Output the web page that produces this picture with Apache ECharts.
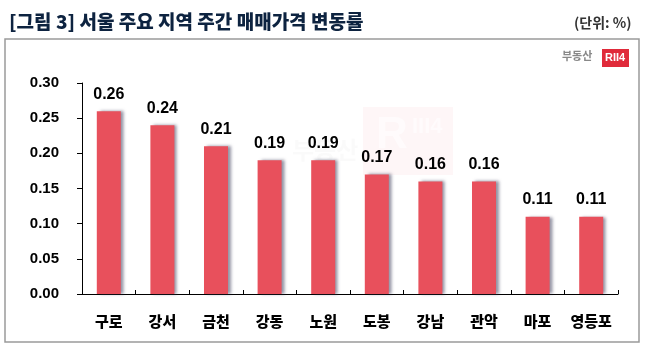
<!DOCTYPE html>
<html>
<head>
<meta charset="utf-8">
<script src="https://cdn.jsdelivr.net/npm/echarts@6/dist/echarts.min.js"></script>
<style>html,body{margin:0;padding:0;background:#fff}#c{width:645px;height:362px}</style>
</head>
<body>
<div id="c"></div>
<script>
const categories = ['구로', '강서', '금천', '강동', '노원', '도봉', '강남', '관악', '마포', '영등포'];
const values = [0.26, 0.24, 0.21, 0.19, 0.19, 0.17, 0.16, 0.16, 0.11, 0.11];
const yTicks = [0, 0.05, 0.10, 0.15, 0.20, 0.25, 0.30];

const chart = echarts.init(document.getElementById('c'), null, {renderer: 'canvas'});
const option = {
  animation: false,
  backgroundColor: '#fff',
  title: {
    text: '[그림 3] 서울 주요 지역 주간 매매가격 변동률',
    left: 4, top: 7,
    textStyle: {fontFamily: 'Noto Sans CJK KR', fontWeight: 900, fontSize: 19, color: '#0d2340'}
  },
  graphic: [
    {type: 'rect', shape: {x: 5, y: 39, width: 634, height: 303}, style: {fill: 'none', stroke: '#9a9a9a', lineWidth: 1.5}, z: 0},
    {type: 'text', left: 574, top: 16, style: {text: '(단위: %)', fontFamily: 'Noto Sans CJK KR', fontSize: 14, fontWeight: 'bold', fill: '#333'}},
    {type: 'text', left: 562, top: 50, style: {text: '부동산', fontFamily: 'Noto Sans CJK KR', fontSize: 11, fontWeight: 'bold', fill: '#888'}},
    {type: 'rect', shape: {x: 602, y: 49, width: 27, height: 18}, style: {fill: '#e02a3a'}},
    {type: 'text', left: 605, top: 52, style: {text: 'RII4', fontFamily: 'Liberation Sans', fontSize: 11, fontWeight: 'bold', fill: '#fff'}},
    {type: 'rect', shape: {x: 363, y: 107, width: 90, height: 68}, style: {fill: 'rgba(232,80,92,0.05)'}, z: 0},
    {type: 'text', left: 376, top: 114, style: {text: 'R', fontFamily: 'Liberation Sans', fontSize: 44, fontWeight: 'bold', fill: 'rgba(255,255,255,0.6)'}, z: 0},
    {type: 'text', left: 412, top: 116, style: {text: 'III4', fontFamily: 'Liberation Sans', fontSize: 22, fontWeight: 'bold', fill: 'rgba(255,255,255,0.6)'}, z: 0},
    {type: 'text', left: 292, top: 138, style: {text: '부동산', fontFamily: 'Noto Sans CJK KR', fontSize: 24, fontWeight: 'bold', fill: 'rgba(150,150,150,0.05)'}, z: 0}
  ],
  grid: {left: 82, right: 27, top: 83, bottom: 68},
  xAxis: {
    type: 'category',
    data: categories,
    axisLine: {lineStyle: {color: '#000', width: 1}},
    axisTick: {show: true, inside: true, length: 4, lineStyle: {color: '#000'}},
    axisLabel: {interval: 0, margin: 20, fontFamily: 'Noto Sans CJK KR', fontWeight: 900, fontSize: 15, color: '#000'}
  },
  yAxis: {
    type: 'value',
    min: 0, max: 0.30, interval: 0.05,
    splitLine: {show: false},
    axisLine: {show: true, lineStyle: {color: '#000', width: 1}},
    axisTick: {show: true, length: 5, lineStyle: {color: '#000'}},
    axisLabel: {margin: 23, fontFamily: 'Liberation Sans', fontWeight: 'bold', fontSize: 15, color: '#000',
      formatter: v => v.toFixed(2)}
  },
  series: [{
    type: 'bar',
    data: values,
    barWidth: 24,
    itemStyle: {color: '#e8505c', shadowColor: 'rgba(60,60,90,0.55)', shadowBlur: 3, shadowOffsetX: 3, shadowOffsetY: 0},
    label: {show: true, position: 'top', distance: 9, fontFamily: 'Liberation Sans', fontWeight: 'bold', fontSize: 16, color: '#000',
      formatter: p => p.value.toFixed(2)}
  }]
};
chart.setOption(option);
</script>
</body>
</html>
